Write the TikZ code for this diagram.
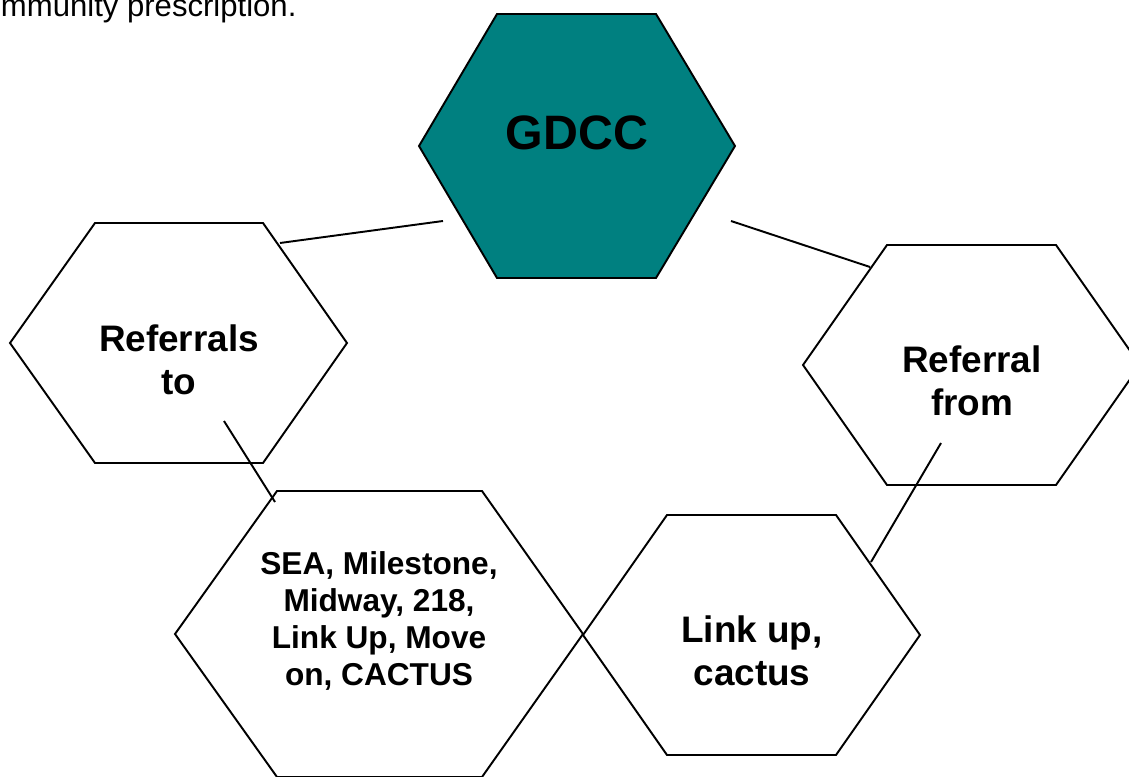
\documentclass[tikz,border=0pt]{standalone}
\usepackage{fontspec}
\setmainfont{Liberation Sans}
\definecolor{gdccteal}{rgb}{0,0.5,0.5}

\begin{document}
\begin{tikzpicture}[x=0.02cm, y=-0.02cm, line width=1.1pt,
    hexlabel/.style={font=\bfseries\fontsize{21}{24.4}\selectfont, align=center, inner sep=0pt}]
  \useasboundingbox (0,0) rectangle (1129,777);
  \clip (0,0) rectangle (1129,777);

  % hexagons
  \filldraw[fill=gdccteal] (497,14) -- (656,14) -- (735,146) -- (656,278) -- (497,278) -- (419,146) -- cycle;
  \draw (95,223) -- (263,223) -- (347,343) -- (263,463) -- (95,463) -- (10,343) -- cycle;
  \draw (887,245) -- (1056,245) -- (1140,365) -- (1056,485) -- (887,485) -- (803,365) -- cycle;
  \draw (277,491) -- (482,491) -- (583,634) -- (482,777) -- (277,777) -- (175,634) -- cycle;
  \draw (667,515) -- (836,515) -- (920,635) -- (836,755) -- (667,755) -- (583,635) -- cycle;

  % labels
  \node[hexlabel, font=\bfseries\fontsize{27.5}{30}\selectfont] (gdcc) at (577,133) {GDCC};
  \node[hexlabel] (refto) at (179,360) {Referrals\\to};
  \node[hexlabel] (reffrom) at (972,381) {Referral\\from};
  \node[hexlabel, font=\bfseries\fontsize{18}{21}\selectfont] (services) at (379,621)
    {SEA, Milestone,\\Midway, 218,\\Link Up, Move\\on, CACTUS};
  \node[hexlabel] (linkup) at (752,651) {Link up,\\cactus};
  \node[anchor=base west, inner sep=0pt, font=\fontsize{17.7}{20}\selectfont] (intro) at (0,17)
    {mmunity prescription.};

  % connectors
  \coordinate (gdcc-w) at (443,221);
  \coordinate (gdcc-e) at (731,221);
  \coordinate (refto-ne) at (280,243);
  \coordinate (refto-in) at (224,421);
  \coordinate (reffrom-nw) at (870,267);
  \coordinate (reffrom-in) at (941,443);
  \coordinate (services-nw) at (275,502);
  \coordinate (linkup-ne) at (871,562);

  \draw (refto-ne) -- (gdcc-w);
  \draw (gdcc-e) -- (reffrom-nw);
  \draw (refto-in) -- (services-nw);
  \draw (reffrom-in) -- (linkup-ne);
\end{tikzpicture}
\end{document}
